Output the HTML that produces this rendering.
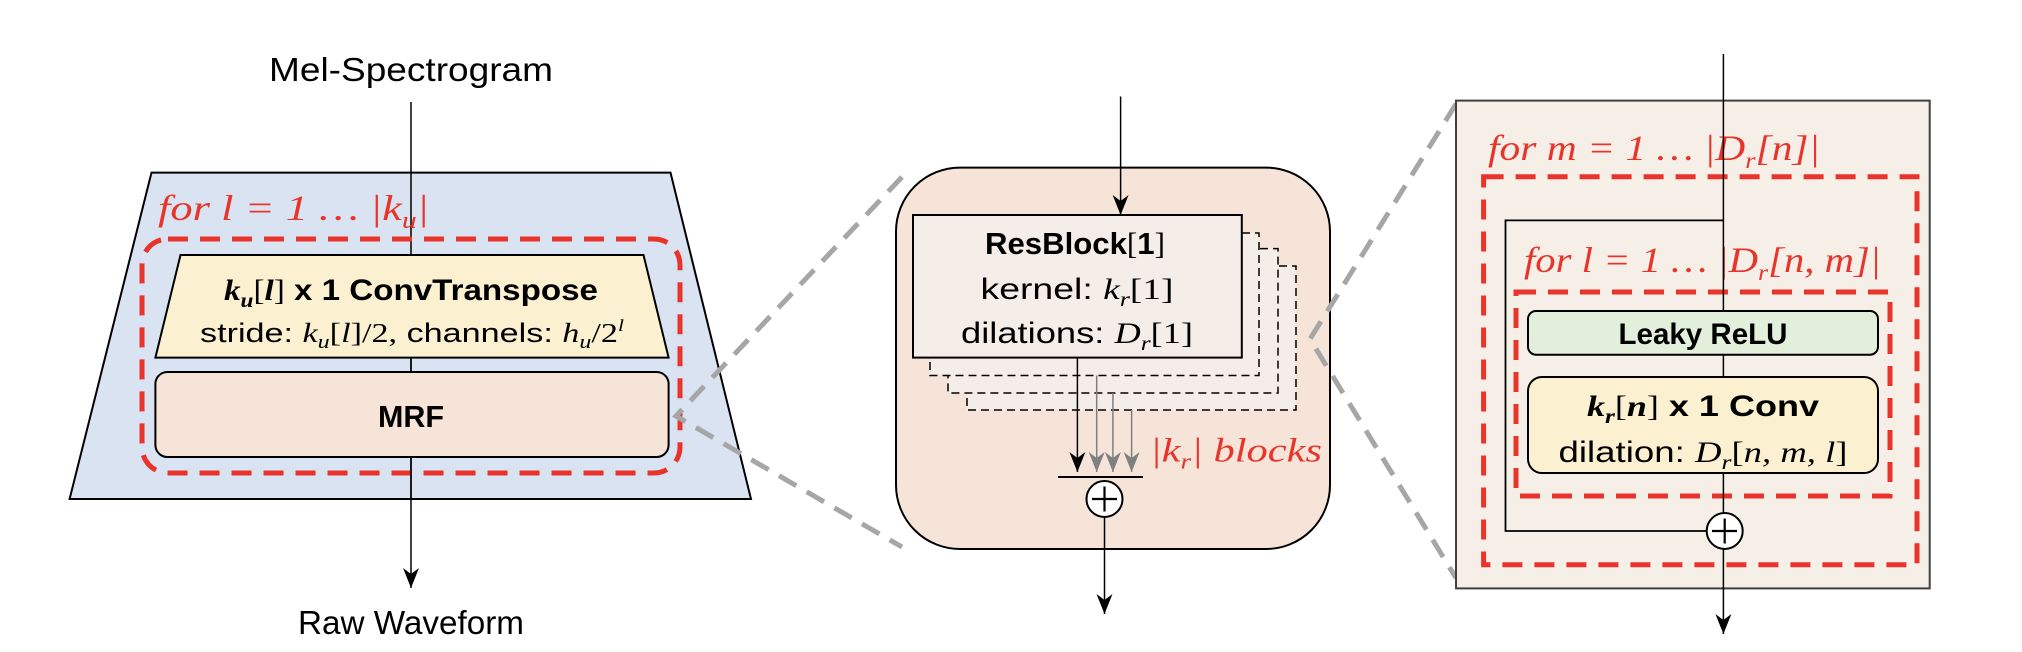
<!DOCTYPE html>
<html><head><meta charset="utf-8"><style>
html,body{margin:0;padding:0;background:#fff;}
svg{display:block;}
.t{font-family:"Liberation Sans",sans-serif;fill:#000;}
.m{font-family:"Liberation Serif",serif;font-style:italic;}
.r{fill:#e8342a;}
</style></head><body>
<svg width="2022" height="652" viewBox="0 0 2022 652" xmlns="http://www.w3.org/2000/svg">
<defs>
<marker id="ab" markerWidth="20" markerHeight="16" refX="20" refY="8" orient="auto" markerUnits="userSpaceOnUse" viewBox="0 0 20 16"><path d="M0,0 L20,8 L0,16 L6,8 Z" fill="#000"/></marker>
<marker id="ag" markerWidth="20" markerHeight="16" refX="20" refY="8" orient="auto" markerUnits="userSpaceOnUse" viewBox="0 0 20 16"><path d="M0,0 L20,8 L0,16 L6,8 Z" fill="#808080"/></marker>
</defs>

<!-- LEFT PANEL -->
<text class="t" x="411" y="81" font-size="33" text-anchor="middle" textLength="284" lengthAdjust="spacingAndGlyphs">Mel-Spectrogram</text>
<polygon points="151.5,172.6 670.5,172.6 751,499 69.6,499" fill="#dae3f1" stroke="#000" stroke-width="2"/>
<line x1="411" y1="102" x2="411" y2="588" stroke="#000" stroke-width="1.5" marker-end="url(#ab)"/>
<text class="m r" x="158" y="220" font-size="36" textLength="271" lengthAdjust="spacingAndGlyphs">for  l = 1 … |k<tspan font-size="24" dy="8">u</tspan><tspan dy="-8">|</tspan></text>
<rect x="142" y="239" width="538" height="234" rx="26" fill="none" stroke="#e8342a" stroke-width="5" stroke-dasharray="20,12"/>
<polygon points="180.5,255 643.5,255 668.6,357.6 155.4,357.6" fill="#fbf0cf" stroke="#000" stroke-width="2"/>
<text class="t" x="411" y="300" font-size="30" font-weight="bold" text-anchor="middle" textLength="374" lengthAdjust="spacingAndGlyphs"><tspan font-family="Liberation Serif" font-style="italic">k</tspan><tspan font-family="Liberation Serif" font-style="italic" font-size="21" dy="7">u</tspan><tspan dy="-7" font-weight="normal" font-family="Liberation Serif">[</tspan><tspan font-family="Liberation Serif" font-style="italic">l</tspan><tspan font-weight="normal" font-family="Liberation Serif">]</tspan> x 1  ConvTranspose</text>
<text class="t" x="412" y="342" font-size="27" text-anchor="middle" textLength="424" lengthAdjust="spacingAndGlyphs">stride: <tspan class="m">k</tspan><tspan class="m" font-size="19" dy="6">u</tspan><tspan dy="-6" font-family="Liberation Serif">[</tspan><tspan class="m">l</tspan><tspan font-family="Liberation Serif">]/2,</tspan> channels: <tspan class="m">h</tspan><tspan class="m" font-size="19" dy="6">u</tspan><tspan dy="-6" font-family="Liberation Serif">/2</tspan><tspan class="m" font-size="17" dy="-11">l</tspan></text>
<rect x="155.4" y="372" width="513.2" height="85" rx="12" fill="#f5e4d7" stroke="#000" stroke-width="2"/>
<line x1="411" y1="357.6" x2="411" y2="372" stroke="#000" stroke-width="1.5"/>
<line x1="411" y1="457" x2="411" y2="500" stroke="#000" stroke-width="1.5"/>
<text class="t" x="411" y="427" font-size="31" font-weight="bold" text-anchor="middle" textLength="66" lengthAdjust="spacingAndGlyphs">MRF</text>
<text class="t" x="411" y="634" font-size="33" text-anchor="middle" textLength="226" lengthAdjust="spacingAndGlyphs">Raw Waveform</text>

<polyline points="902,177 676,416 902,547" fill="none" stroke="#a6a6a6" stroke-width="5" stroke-dasharray="20,12"/>

<!-- MIDDLE PANEL -->
<rect x="896" y="167.6" width="434" height="381.4" rx="64" fill="#f5e4d7" stroke="#000" stroke-width="2"/>
<line x1="1120.6" y1="96.5" x2="1120.6" y2="215" stroke="#000" stroke-width="1.5" marker-end="url(#ab)"/>
<rect x="967" y="266" width="329" height="144" fill="#f5eee8" stroke="#000" stroke-width="1.5" stroke-dasharray="8,5"/>
<rect x="948" y="248.6" width="330" height="144.4" fill="#f5eee8" stroke="#000" stroke-width="1.5" stroke-dasharray="8,5"/>
<rect x="930" y="233" width="329" height="142.5" fill="#f5eee8" stroke="#000" stroke-width="1.5" stroke-dasharray="8,5"/>
<rect x="913" y="215" width="328.8" height="142.6" fill="#f5eee8" stroke="#000" stroke-width="2"/>
<text class="t" x="1075" y="254" font-size="31" font-weight="bold" text-anchor="middle" textLength="180" lengthAdjust="spacingAndGlyphs">ResBlock<tspan font-weight="normal" font-family="Liberation Serif">[</tspan>1<tspan font-weight="normal" font-family="Liberation Serif">]</tspan></text>
<text class="t" x="1077" y="299" font-size="30" text-anchor="middle" textLength="193" lengthAdjust="spacingAndGlyphs">kernel: <tspan class="m">k</tspan><tspan class="m" font-size="21" dy="7">r</tspan><tspan dy="-7" font-family="Liberation Serif">[1]</tspan></text>
<text class="t" x="1077" y="343" font-size="30" text-anchor="middle" textLength="232" lengthAdjust="spacingAndGlyphs">dilations: <tspan class="m">D</tspan><tspan class="m" font-size="21" dy="7">r</tspan><tspan dy="-7" font-family="Liberation Serif">[1]</tspan></text>
<line x1="1096.7" y1="375.5" x2="1096.7" y2="472" stroke="#808080" stroke-width="1.5" marker-end="url(#ag)"/>
<line x1="1112.9" y1="393" x2="1112.9" y2="472" stroke="#808080" stroke-width="1.5" marker-end="url(#ag)"/>
<line x1="1131.6" y1="410" x2="1131.6" y2="472" stroke="#808080" stroke-width="1.5" marker-end="url(#ag)"/>
<line x1="1077.4" y1="357.6" x2="1077.4" y2="472" stroke="#000" stroke-width="1.5" marker-end="url(#ab)"/>
<line x1="1058" y1="477" x2="1143" y2="477" stroke="#000" stroke-width="2"/>
<circle cx="1104.5" cy="499" r="18" fill="#fff" stroke="#000" stroke-width="2"/>
<path d="M1092,499 H1117 M1104.5,486.5 V511.5" stroke="#000" stroke-width="2.2"/>
<line x1="1104.5" y1="517" x2="1104.5" y2="614" stroke="#000" stroke-width="1.5" marker-end="url(#ab)"/>
<text class="m r" x="1150" y="461.5" font-size="34" textLength="172" lengthAdjust="spacingAndGlyphs">|k<tspan font-size="22" dy="7">r</tspan><tspan dy="-7">| blocks</tspan></text>

<polyline points="1456,104 1310,339 1456,578" fill="none" stroke="#a6a6a6" stroke-width="5" stroke-dasharray="20,12"/>

<!-- RIGHT PANEL -->
<rect x="1456" y="100.6" width="473.7" height="487.8" fill="#f6efe8" stroke="#404040" stroke-width="2"/>
<text class="m r" x="1488" y="160" font-size="36" textLength="332" lengthAdjust="spacingAndGlyphs">for  m = 1 … |D<tspan font-size="23" dy="8">r</tspan><tspan dy="-8">[n]|</tspan></text>
<rect x="1483.6" y="176.7" width="433.4" height="388" fill="none" stroke="#e8342a" stroke-width="5" stroke-dasharray="20,12"/>
<polyline points="1723.4,220.4 1505.5,220.4 1505.5,531 1706.7,531" fill="none" stroke="#000" stroke-width="1.8"/>
<text class="m r" x="1524" y="272" font-size="36" textLength="357" lengthAdjust="spacingAndGlyphs">for  l = 1 … |D<tspan font-size="23" dy="8">r</tspan><tspan dy="-8">[n, m]|</tspan></text>
<rect x="1516" y="292" width="374" height="204" fill="none" stroke="#e8342a" stroke-width="5" stroke-dasharray="20,12"/>
<line x1="1723.4" y1="54" x2="1723.4" y2="634" stroke="#000" stroke-width="1.5" marker-end="url(#ab)"/>
<rect x="1528" y="311" width="350" height="43.7" rx="8" fill="#e2efda" stroke="#000" stroke-width="2"/>
<text class="t" x="1703" y="344" font-size="30" font-weight="bold" text-anchor="middle" textLength="169" lengthAdjust="spacingAndGlyphs">Leaky ReLU</text>
<rect x="1528" y="377" width="350" height="96" rx="14" fill="#fbf0cf" stroke="#000" stroke-width="2"/>
<text class="t" x="1703" y="416" font-size="30" font-weight="bold" text-anchor="middle" textLength="232" lengthAdjust="spacingAndGlyphs"><tspan font-family="Liberation Serif" font-style="italic">k</tspan><tspan font-family="Liberation Serif" font-style="italic" font-size="21" dy="7">r</tspan><tspan dy="-7" font-weight="normal" font-family="Liberation Serif">[</tspan><tspan font-family="Liberation Serif" font-style="italic">n</tspan><tspan font-weight="normal" font-family="Liberation Serif">]</tspan> x 1  Conv</text>
<text class="t" x="1703" y="462" font-size="30" text-anchor="middle" textLength="289" lengthAdjust="spacingAndGlyphs">dilation: <tspan class="m">D</tspan><tspan class="m" font-size="21" dy="7">r</tspan><tspan dy="-7" font-family="Liberation Serif">[</tspan><tspan class="m">n, m, l</tspan><tspan font-family="Liberation Serif">]</tspan></text>
<circle cx="1724.7" cy="531" r="18" fill="#fff" stroke="#000" stroke-width="2"/>
<path d="M1712,531 H1737 M1724.7,518.5 V543.5" stroke="#000" stroke-width="2.2"/>
</svg>
</body></html>
